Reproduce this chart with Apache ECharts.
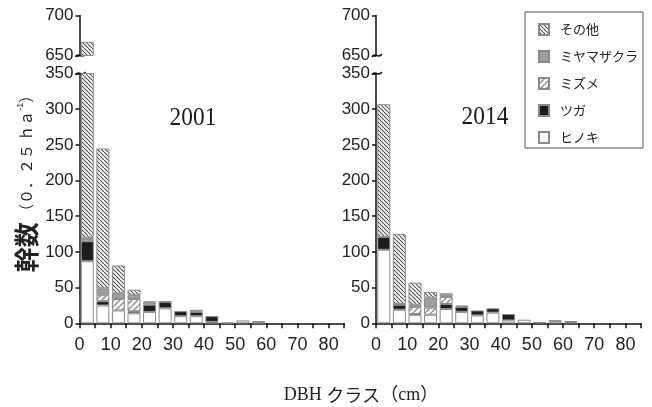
<!DOCTYPE html>
<html><head><meta charset="utf-8">
<script src="https://cdn.jsdelivr.net/npm/echarts@6/dist/echarts.min.js"></script>
<style>html,body{margin:0;padding:0;background:#fff}#c{width:652px;height:407px}</style>
</head><body><div id="c"></div>
<script>
// DBH classes (5 cm), 0–85 cm
const dbhClasses = ['0-5', '5-10', '10-15', '15-20', '20-25', '25-30', '30-35', '35-40', '40-45',
  '45-50', '50-55', '55-60', '60-65', '65-70', '70-75', '75-80', '80-85'];
const speciesNames = ['ヒノキ', 'ツガ', 'ミズメ', 'ミヤマザクラ', 'その他']; // stack order bottom→top
const legendOrder = ['その他', 'ミヤマザクラ', 'ミズメ', 'ツガ', 'ヒノキ'];
const xTickLabels = [0, 10, 20, 30, 40, 50, 60, 70, 80];
const yLowerRange = [0, 350];
const yUpperRange = [650, 700];
const yearLabels = ['2001', '2014'];

// 2001
const hinoki2001 = [87, 25, 18, 14, 16, 21, 10, 10, 2, 1, 4, 1, 0];
const tsuga2001 = [28, 6, 0, 3, 10, 9, 7, 6, 8, 0, 0, 2, 0];
const mizume2001 = [3, 9, 16, 17, 0, 0, 0, 0, 0, 0, 0, 0, 0];
const miyama2001 = [2, 9, 8, 6, 3, 0, 0, 0, 0, 0, 0, 0, 0];
const other2001 = [547, 196, 39, 7, 2, 1, 0, 3, 0, 0, 0, 0, 0];
// 2014
const hinoki2014 = [103, 19, 12, 12, 20, 16, 11, 15, 4, 5, 0, 3, 2];
const tsuga2014 = [18, 7, 1, 0, 7, 7, 7, 6, 9, 0, 2, 1, 0];
const mizume2014 = [0, 0, 10, 10, 10, 0, 0, 0, 0, 0, 0, 0, 0];
const miyama2014 = [0, 1, 3, 14, 5, 2, 0, 0, 0, 0, 0, 0, 0];
const other2014 = [186, 98, 31, 8, 0, 0, 0, 0, 0, 0, 0, 0, 1];

const panels = [
  [hinoki2001, tsuga2001, mizume2001, miyama2001, other2001],
  [hinoki2014, tsuga2014, mizume2014, miyama2014, other2014]
];

function hatch(dir, color, period, lw) {
  const c = document.createElement('canvas');
  c.width = c.height = period;
  const g = c.getContext('2d');
  g.fillStyle = '#fff'; g.fillRect(0, 0, period, period);
  g.strokeStyle = color; g.lineWidth = lw;
  g.beginPath();
  for (const k of [-period, 0, period]) {
    if (dir === 'back') { g.moveTo(k, 0); g.lineTo(k + period, period); }
    else { g.moveTo(k, period); g.lineTo(k + period, 0); }
  }
  g.stroke();
  return c;
}
const fills = [
  '#ffffff',
  '#1c1c1c',
  { image: hatch('fwd', '#9a9a9a', 6, 1.6), repeat: 'repeat' },
  '#9e9e9e',
  { image: hatch('back', '#505050', 4, 1.1), repeat: 'repeat' }
];

const labelFont = '"Liberation Sans Narrow", "Liberation Sans", sans-serif';
const grids = [
  { left: 79.5, top: 73.5, width: 264.7, height: 249.8 },
  { left: 79.5, top: 15.5, width: 264.7, height: 40 },
  { left: 376, top: 73.5, width: 265, height: 249.8 },
  { left: 376, top: 15.5, width: 265, height: 40 }
];

// visible value axes (0..3) + hidden category axes carrying the bars (4..7)
const xAxes = grids.map((g, i) => ({
  gridIndex: i, type: 'value', min: 0, max: 85, interval: 5, show: i % 2 === 0,
  axisLine: { show: true, lineStyle: { color: '#111', width: 1.5 } },
  axisTick: { show: true, length: 5, lineStyle: { color: '#111', width: 1.5 } },
  axisLabel: { margin: 13, fontFamily: labelFont, fontSize: 18, color: '#222',
    formatter: v => xTickLabels.includes(v) ? String(v) : '' },
  splitLine: { show: false }
})).concat(grids.map((g, i) => ({
  gridIndex: i, type: 'category', data: dbhClasses, boundaryGap: true, show: false
})));
const yAxes = grids.map((g, i) => {
  const r = i % 2 ? yUpperRange : yLowerRange;
  return {
    gridIndex: i, type: 'value', min: r[0], max: r[1], interval: 50,
    axisLine: { show: true, lineStyle: { color: '#111', width: 1.5 } },
    axisTick: { show: true, length: 4, lineStyle: { color: '#111', width: 1.5 } },
    axisLabel: { margin: 6, fontFamily: labelFont, fontSize: 17, color: '#222' },
    splitLine: { show: false }
  };
});

const series = [];
panels.forEach((vals, p) => {
  [2 * p, 2 * p + 1].forEach(g => {
    speciesNames.forEach((name, k) => {
      series.push({
        type: 'bar', name, xAxisIndex: 4 + g, yAxisIndex: g, stack: 'st' + g,
        barWidth: 13, clip: true, silent: true,
        itemStyle: { color: fills[k], borderColor: '#8a8a8a', borderWidth: 1 },
        data: dbhClasses.map((c, i) => vals[k][i] ? vals[k][i] : '-')
      });
    });
  });
});

const chart = echarts.init(document.getElementById('c'), null, { renderer: 'canvas' });
chart.setOption({
  animation: false,
  backgroundColor: '#fff',
  grid: grids.map(g => Object.assign({ outerBoundsMode: 'none' }, g)),
  xAxis: xAxes,
  yAxis: yAxes,
  legend: {
    left: 525, top: 12, orient: 'vertical', data: legendOrder, icon: 'rect',
    itemWidth: 10, itemHeight: 11, itemGap: 14, padding: [11, 5, 4, 13],
    borderColor: '#555', borderWidth: 1, selectedMode: false,
    textStyle: { fontFamily: '"Noto Sans CJK JP", sans-serif', fontSize: 13, color: '#222', padding: [0, 0, 0, 6] }
  },
  series
});

const gr = [];
// break marks on the y axes
[0, 1, 2, 3].forEach(i => {
  const v = i % 2 ? yUpperRange[0] : yLowerRange[1];
  const pt = chart.convertToPixel({ xAxisIndex: i, yAxisIndex: i }, [0, v]);
  gr.push({ type: 'bezierCurve', silent: true,
    shape: { x1: pt[0] - 4, y1: pt[1] + 1.5, cpx1: pt[0] - 1, cpy1: pt[1] - 4, cpx2: pt[0] + 2, cpy2: pt[1] + 4, x2: pt[0] + 6, y2: pt[1] - 1.5 },
    style: { stroke: '#111', lineWidth: 1.5, fill: null } });
});
// year labels
const yearPos = [[193, 118], [485, 117]];
yearLabels.forEach((t, i) => {
  gr.push({ type: 'text', x: yearPos[i][0], y: yearPos[i][1], scaleX: 0.9, silent: true,
    style: { text: t, font: '26px "Liberation Serif", serif', fill: '#1a1a1a', align: 'center', verticalAlign: 'middle' } });
});
// x axis name
gr.push({ type: 'text', x: 361, y: 395, silent: true,
  style: { text: '{s|DBH }{j|クラス}{s|（cm）}', align: 'center', verticalAlign: 'middle',
    rich: {
      s: { fontFamily: '"Liberation Serif", "Noto Sans CJK JP", serif', fontSize: 18, fill: '#222' },
      j: { fontFamily: '"Noto Sans CJK JP", sans-serif', fontSize: 18, fill: '#222' }
    } } });
// y axis name
gr.push({ type: 'text', x: 26, y: 180, rotation: Math.PI / 2, silent: true,
  style: { text: '{b|幹数}{n| （０．２５ ｈａ}{s|-1}{n|）}', align: 'center', verticalAlign: 'middle',
    rich: {
      b: { fontFamily: '"Noto Sans CJK JP", sans-serif', fontSize: 25, fontWeight: 'bold', fill: '#222', verticalAlign: 'middle' },
      n: { fontFamily: '"Noto Sans CJK JP", sans-serif', fontSize: 15, fill: '#222', verticalAlign: 'middle' },
      s: { fontFamily: '"Liberation Sans", sans-serif', fontSize: 9, fill: '#222', verticalAlign: 'middle', padding: [0, 0, 10, 0] }
    } } });
chart.setOption({ graphic: gr });
</script></body></html>
